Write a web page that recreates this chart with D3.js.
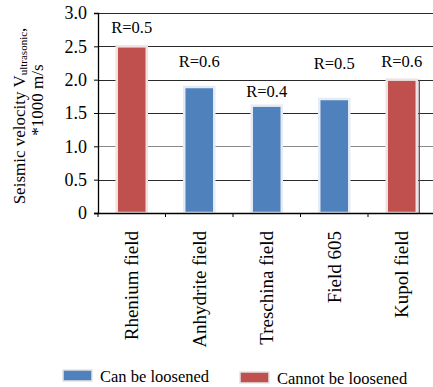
<!DOCTYPE html>
<html>
<head>
<meta charset="utf-8">
<script src="https://cdn.jsdelivr.net/npm/d3@7"></script>
<style>
  html, body { margin: 0; padding: 0; background: #fff; }
  svg { display: block; }
  svg text, svg tspan { font-family: 'Liberation Serif', serif !important; }
</style>
</head>
<body>
<div id="wrap"></div>
<script>
const categories = ["Rhenium field", "Anhydrite field", "Treschina field", "Field 605", "Kupol field"];
const velocities = [2.5, 1.89, 1.61, 1.71, 2.0];
const groups = ["cannot", "can", "can", "can", "cannot"];
const rLabels = ["R=0.5", "R=0.6", "R=0.4", "R=0.5", "R=0.6"];
const rLabelLevels = [2.7, 2.19, 1.74, 2.16, 2.19];
const yTicks = [0, 0.5, 1.0, 1.5, 2.0, 2.5, 3.0];
const legendItems = [
  { key: "can", label: "Can be loosened" },
  { key: "cannot", label: "Cannot be loosened" }
];
const colors = { can: "#4F81BD", cannot: "#C0504D" };

const svg = d3.select("#wrap").append("svg").attr("width", 433).attr("height", 387);
const x = d3.scaleBand().domain(categories).range([98, 435.5]).paddingInner(0.555).paddingOuter(0.2775);
const y = d3.scaleLinear().domain([0, 3]).range([213, 13]);

// gridlines
svg.append("g").selectAll("line").data(yTicks.filter(d => d > 0)).join("line")
  .attr("x1", 98).attr("x2", 433)
  .attr("y1", d => Math.round(y(d)) + 0.5).attr("y2", d => Math.round(y(d)) + 0.5)
  .attr("stroke", d => d === 1.0 ? "#8a8a8a" : "#2a2a2a").attr("stroke-width", 1.2);

// bars
const data = categories.map((c, i) => ({ c, v: velocities[i], g: groups[i], r: rLabels[i], rl: rLabelLevels[i] }));
svg.append("g").selectAll("rect").data(data).join("rect")
  .attr("x", d => x(d.c)).attr("width", x.bandwidth())
  .attr("y", d => y(d.v)).attr("height", d => y(0) - y(d.v))
  .attr("fill", d => colors[d.g])
  .attr("stroke", d => d.g === "can" ? "#e6ecf5" : "#f0e2e2").attr("stroke-width", 2.5);

// shadow line at the last bar
const last = data[data.length - 1];
svg.append("line")
  .attr("x1", x(last.c) + x.bandwidth() + 2.5).attr("x2", x(last.c) + x.bandwidth() + 2.5)
  .attr("y1", y(last.v)).attr("y2", y(0))
  .attr("stroke", "#5a4a5e").attr("stroke-width", 1.3);

// y axis
const yAxis = svg.append("g").attr("transform", "translate(98,0)")
  .call(d3.axisLeft(y).tickValues(yTicks).tickSize(4).tickPadding(7)
    .tickFormat(d => d === 0 ? "0" : d3.format(".1f")(d)));
yAxis.attr("font-family", null).attr("font-size", 18);
yAxis.select(".domain").attr("stroke", "#000").attr("stroke-width", 1.3);
yAxis.selectAll(".tick line").attr("stroke", "#000");
yAxis.selectAll("text").attr("font-size", 18).attr("fill", "#000");

// x axis
const xAxis = svg.append("g").attr("transform", "translate(0,213)");
xAxis.append("line").attr("x1", 94).attr("x2", 433).attr("y1", 0.5).attr("y2", 0.5)
  .attr("stroke", "#000").attr("stroke-width", 1.3);
const step = x.step();
const bounds = categories.map((c, i) => x.range()[0] + i * step);
xAxis.selectAll("line.tk").data(bounds).join("line").attr("class", "tk")
  .attr("x1", d => d).attr("x2", d => d).attr("y1", 0).attr("y2", 4)
  .attr("stroke", "#000");

// category labels
svg.append("g").selectAll("text").data(categories).join("text")
  .attr("transform", d => `translate(${x(d) + x.bandwidth() / 2},231) rotate(-90)`)
  .attr("text-anchor", "end").attr("dy", "0.35em").attr("fill", "#000")
  .attr("font-size", 19)
  .text(d => d);

// R labels
svg.append("g").selectAll("text").data(data).join("text")
  .attr("x", d => x(d.c) + x.bandwidth() / 2)
  .attr("y", d => y(d.rl))
  .attr("text-anchor", "middle").attr("fill", "#000").attr("font-size", 16.5)
  .text(d => d.r);

// y title
const t1 = svg.append("text").attr("transform", "translate(25,116) rotate(-90)")
  .attr("text-anchor", "middle").attr("fill", "#000").attr("font-size", 17);
t1.append("tspan").text("Seismic velocity V");
t1.append("tspan").attr("font-size", 11).attr("dy", 2).text("ultrasonic");
t1.append("tspan").attr("dy", -2).text(",");
svg.append("text").attr("transform", "translate(42.5,100) rotate(-90)")
  .attr("text-anchor", "middle").attr("fill", "#000").attr("font-size", 17)
  .text("*1000 m/s");

// legend
const lg = svg.append("g");
const lx = [63, 240], ly = [370, 372];
legendItems.forEach((it, i) => {
  lg.append("rect").attr("x", lx[i]).attr("y", ly[i]).attr("width", 29).attr("height", 11)
    .attr("fill", colors[it.key]).attr("stroke", "#e4e4e4").attr("stroke-width", 1.5);
  lg.append("text").attr("x", lx[i] + 37).attr("y", ly[i] + 11.5)
    .attr("fill", "#000").attr("font-size", 16.5).text(it.label);
});
</script>
</body>
</html>
